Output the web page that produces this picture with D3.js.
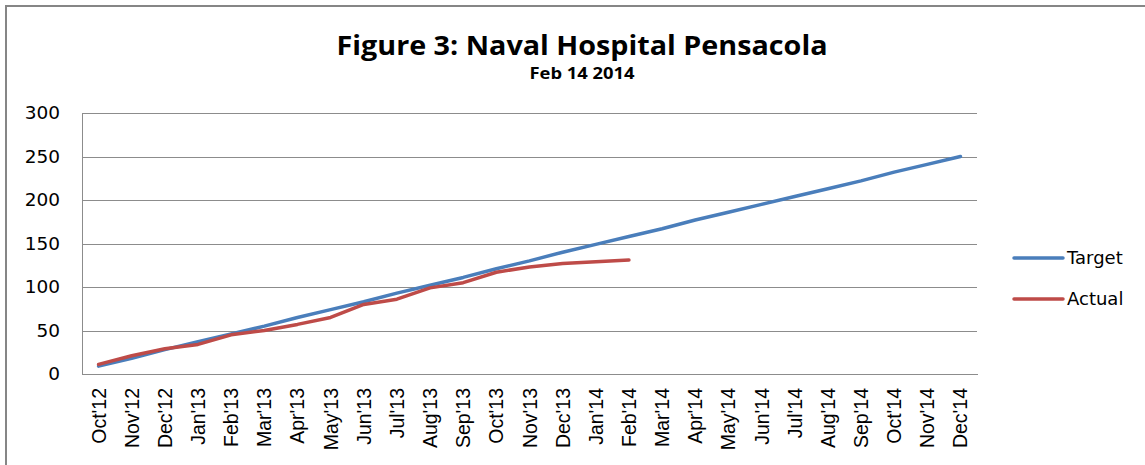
<!DOCTYPE html>
<html>
<head>
<meta charset="utf-8">
<script src="https://cdn.jsdelivr.net/npm/d3@7"></script>
<style>
  html, body { margin: 0; padding: 0; background: #fff; }
  svg { display: block; }
</style>
</head>
<body>
<svg id="chart" width="1145" height="465"></svg>
<script>
const months = ["Oct'12","Nov'12","Dec'12","Jan'13","Feb'13","Mar'13","Apr'13","May'13","Jun'13","Jul'13","Aug'13","Sep'13",
  "Oct'13","Nov'13","Dec'13","Jan'14","Feb'14","Mar'14","Apr'14","May'14","Jun'14","Jul'14","Aug'14","Sep'14","Oct'14","Nov'14","Dec'14"];
const target = [9, 18, 28, 37, 46, 55, 65, 74, 83, 93, 102, 111, 121, 130, 140, 149, 158, 167, 177, 186, 195, 204, 213, 222, 232, 241, 250];
const actual = [11, 21, 29, 34, 45, 50, 57, 65, 80, 86, 99, 105, 117, 123, 127, 129, 131];
const yTicks = [0, 50, 100, 150, 200, 250, 300];
const seriesNames = ["Target", "Actual"];
const seriesColors = ["#4A7EBB", "#BE4B48"];
const titleText = "Figure 3: Naval Hospital Pensacola";
const subtitleText = "Feb 14 2014";

const svg = d3.select("#chart");
const pLeft = 82, pRight = 977, pTop = 113, pBottom = 374;

// outer chart border
svg.append("rect").attr("x", 6).attr("y", 6).attr("width", 1160).attr("height", 480)
  .attr("fill", "#fff").attr("stroke", "#868686").attr("stroke-width", 2);

const x = d3.scaleBand().domain(months).range([pLeft, pRight]).paddingInner(0).paddingOuter(0);
const y = d3.scaleLinear().domain([0, 300]).range([pBottom, pTop]);
const cx = d => x(d) + x.bandwidth() / 2;

// gridlines
const grid = svg.append("g").attr("transform", `translate(${pLeft},0)`)
  .call(d3.axisLeft(y).tickValues(yTicks).tickSize(-(pRight - pLeft)).tickFormat(""));
grid.select(".domain").remove();
grid.selectAll("line").attr("stroke", "#8c8c8c").attr("stroke-width", 1).attr("shape-rendering", "crispEdges");

// y axis labels
const yAxis = svg.append("g").attr("transform", `translate(${pLeft},0)`)
  .call(d3.axisLeft(y).tickValues(yTicks).tickSize(0).tickPadding(22));
yAxis.select(".domain").attr("stroke", "#8c8c8c").attr("shape-rendering", "crispEdges");
yAxis.selectAll("text").attr("font-family", "DejaVu Sans").attr("font-size", 18.5).attr("fill", "#000");

// x axis
const xAxis = svg.append("g").attr("transform", `translate(0,${pBottom})`)
  .call(d3.axisBottom(x).tickSize(0));
xAxis.select(".domain").attr("stroke", "#8c8c8c").attr("shape-rendering", "crispEdges");
xAxis.selectAll("text")
  .attr("font-family", "Liberation Sans").attr("font-size", 19.5).attr("fill", "#000")
  .attr("text-anchor", "end").attr("transform", "rotate(-90)")
  .attr("x", -14).attr("y", 0).attr("dy", "0.36em");

// lines
const line = d3.line().x((d, i) => cx(months[i])).y(d => y(d));
[target, actual].forEach((data, k) => {
  svg.append("path").datum(data).attr("d", line)
    .attr("fill", "none").attr("stroke", seriesColors[k]).attr("stroke-width", 3.5)
    .attr("stroke-linecap", "round").attr("stroke-linejoin", "round");
});

// title
svg.append("text").attr("x", 582).attr("y", 55).attr("text-anchor", "middle")
  .attr("font-family", "Open Sans").attr("font-weight", "bold").attr("font-size", 26).attr("fill", "#000")
  .attr("textLength", 491).attr("lengthAdjust", "spacingAndGlyphs")
  .text(titleText);
svg.append("text").attr("x", 582).attr("y", 79).attr("text-anchor", "middle")
  .attr("font-family", "Open Sans").attr("font-weight", "bold").attr("font-size", 16).attr("fill", "#000")
  .attr("textLength", 105).attr("lengthAdjust", "spacingAndGlyphs")
  .text(subtitleText);

// legend
const legend = svg.append("g");
seriesNames.forEach((name, k) => {
  const ly = 258 + k * 41;
  legend.append("line").attr("x1", 1014).attr("x2", 1063).attr("y1", ly).attr("y2", ly)
    .attr("stroke", seriesColors[k]).attr("stroke-width", 3.5).attr("stroke-linecap", "round");
  legend.append("text").attr("x", 1067).attr("y", ly).attr("dy", "0.35em")
    .attr("font-family", "DejaVu Sans").attr("font-size", 18).attr("fill", "#000").text(name);
});
</script>
</body>
</html>
